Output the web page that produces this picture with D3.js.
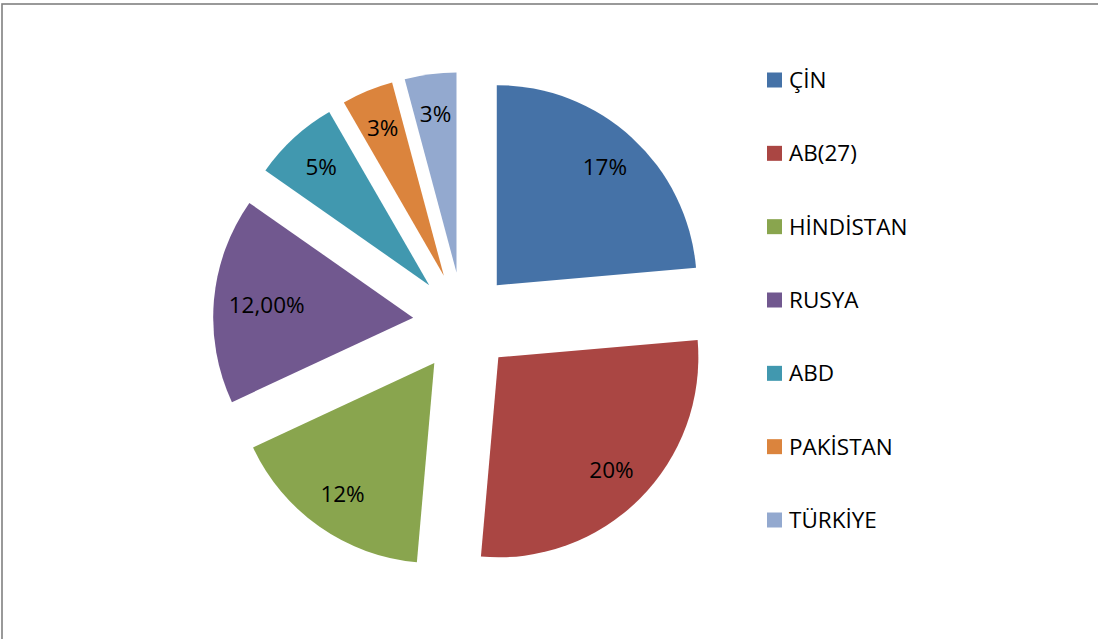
<!DOCTYPE html>
<html>
<head>
<meta charset="utf-8">
<script src="https://cdn.jsdelivr.net/npm/d3@7"></script>
<style>
  body { margin: 0; background: #fff; }
  svg text { font-family: "Open Sans", sans-serif; fill: #000; }
</style>
</head>
<body>
<svg id="pie"></svg>
<script>
// data
let countries = ["ÇİN", "AB(27)", "HİNDİSTAN", "RUSYA", "ABD", "PAKİSTAN", "TÜRKİYE"];
let shares = [17, 20, 12, 12, 5, 3, 3];
let labels = ["17%", "20%", "12%", "12,00%", "5%", "3%", "3%"];
let colors = ["#4572A7", "#AA4643", "#89A54E", "#71588F", "#4198AF", "#DB843D", "#93A9CF"];

// sizes
let widthSVG = 1098;
let heightSVG = 639;
let center = {x: 463, y: 322};
let radius = 200;
let explode = 50;

let SVG = d3.select('svg#pie')
            .attr('width', widthSVG)
            .attr('height', heightSVG);

// outer frame (only top and left visible)
SVG.append('rect')
   .attr('x', 2)
   .attr('y', 4)
   .attr('width', widthSVG + 20)
   .attr('height', heightSVG + 20)
   .style('fill', 'none')
   .style('stroke', '#808080')
   .style('stroke-width', 1.6);

let pie = d3.pie().sort(null).value(d => d);
let arcs = pie(shares);
let arc = d3.arc().innerRadius(0).outerRadius(radius);

let pieG = SVG.append('g')
              .attr('transform', `translate(${center.x}, ${center.y})`);

// groups, each pushed out along its mid angle
let sliceGs = pieG.selectAll('g.slice')
  .data(arcs)
  .enter()
  .append('g')
  .attr('class', 'slice')
  .attr('transform', d => {
    let mid = (d.startAngle + d.endAngle) / 2;
    return `translate(${explode * Math.sin(mid)}, ${-explode * Math.cos(mid)})`;
  });

sliceGs.append('path')
  .attr('d', arc)
  .style('fill', (d, i) => colors[i]);

// data labels
sliceGs.append('text')
  .text((d, i) => labels[i])
  .attr('text-anchor', 'middle')
  .attr('dy', '0.35em')
  .style('font-size', '22.5px')
  .each(function(d) {
    let mid = (d.startAngle + d.endAngle) / 2;
    let w = this.getComputedTextLength();
    // pull wide labels inward so they stay inside the slice
    let lr = 160 - Math.max(0, w - 50) / 2;
    d3.select(this)
      .attr('x', lr * Math.sin(mid))
      .attr('y', -lr * Math.cos(mid));
  });

// legend
let legendScale = d3.scalePoint()
  .domain(countries)
  .range([80, 520]);

let legendGs = SVG.selectAll('g.legendItem')
  .data(countries)
  .enter()
  .append('g')
  .attr('class', 'legendItem')
  .attr('transform', d => `translate(767, ${legendScale(d)})`);

legendGs.append('rect')
  .attr('x', 0)
  .attr('y', -7.5)
  .attr('width', 15)
  .attr('height', 15)
  .style('fill', (d, i) => colors[i]);

legendGs.append('text')
  .text(d => d)
  .attr('x', 22)
  .attr('dy', '0.36em')
  .style('font-size', '22.5px');
</script>
</body>
</html>
